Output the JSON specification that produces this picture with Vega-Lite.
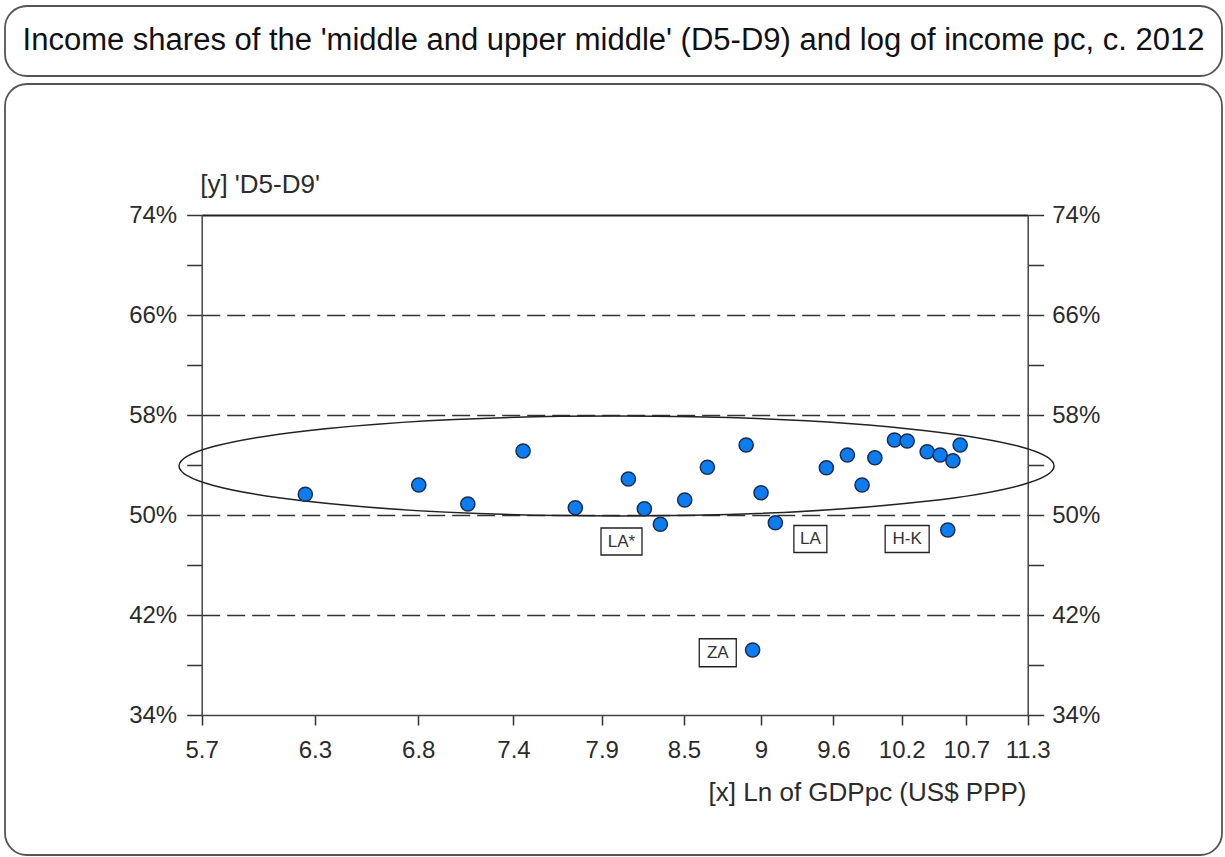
{
  "$schema": "https://vega.github.io/schema/vega-lite/v6.json",
  "padding": {"left": 4, "top": 5, "right": 0, "bottom": 0},
  "background": "white",
  "config": {
    "view": {"stroke": "#555", "strokeWidth": 1.8, "cornerRadius": 22},
    "font": "Liberation Sans"
  },
  "datasets": {
    "points": [
      {"x": 6.211, "y": 51.66}, {"x": 6.823, "y": 52.4}, {"x": 7.106, "y": 50.88},
      {"x": 7.439, "y": 55.12}, {"x": 7.768, "y": 50.58}, {"x": 8.117, "y": 52.88},
      {"x": 8.225, "y": 50.5}, {"x": 8.335, "y": 49.26}, {"x": 8.505, "y": 51.2},
      {"x": 8.666, "y": 53.82}, {"x": 8.949, "y": 55.6}, {"x": 9.06, "y": 51.78},
      {"x": 9.168, "y": 49.38}, {"x": 9.564, "y": 53.78}, {"x": 9.732, "y": 54.8},
      {"x": 9.851, "y": 52.4}, {"x": 9.956, "y": 54.58}, {"x": 10.119, "y": 56.0},
      {"x": 10.226, "y": 55.92}, {"x": 10.397, "y": 55.06}, {"x": 10.509, "y": 54.8},
      {"x": 10.621, "y": 54.34}, {"x": 10.685, "y": 55.6}, {"x": 10.576, "y": 48.8},
      {"x": 8.997, "y": 39.2}
    ],
    "labels": [
      {"label": "LA*", "x": 8.071, "y": 47.88},
      {"label": "LA", "x": 9.438, "y": 48.08},
      {"label": "H-K", "x": 10.226, "y": 48.08},
      {"label": "ZA", "x": 8.741, "y": 38.98}
    ],
    "ellipse": [{"x": 8.038, "y": 53.92}],
    "title": [{"t": "Income shares of the 'middle and upper middle' (D5-D9) and log of income pc, c. 2012"}]
  },
  "vconcat": [
    {
      "width": 1217,
      "height": 70,
      "view": {"stroke": "#555", "strokeWidth": 1.8, "cornerRadius": 22, "fill": "white"},
      "data": {"name": "title"},
      "mark": {"type": "text", "fontSize": 31, "color": "#111", "font": "Liberation Sans", "baseline": "middle"},
      "encoding": {"text": {"field": "t"}}
    },
    {
      "width": 1217,
      "height": 771,
      "view": {"stroke": "#555", "strokeWidth": 1.8, "cornerRadius": 22},
      "layer": [
        {
          "data": {"name": "ellipse"},
          "mark": {"type": "point", "shape": "M-437.5,0A437.5,50 0 1,1 437.5,0A437.5,50 0 1,1 -437.5,0Z", "size": 4, "filled": false, "stroke": "#222", "strokeWidth": 1.5, "opacity": 1},
          "encoding": {
            "x": {"field": "x", "type": "quantitative", "scale": {"type": "log", "domain": [5.7, 11.3], "range": [196.7, 1022.7], "nice": false, "zero": false}, "axis": null},
            "y": {"field": "y", "type": "quantitative", "scale": {"domain": [34, 74], "range": [631, 131], "nice": false, "zero": false}, "axis": null}
          }
        },
        {
          "data": {"name": "labels"},
          "mark": {"type": "point", "size": 4, "filled": true, "fill": "white", "stroke": "#222", "strokeWidth": 1.3, "opacity": 1},
          "encoding": {
            "x": {"field": "x", "type": "quantitative",
              "scale": {"type": "log", "domain": [5.7, 11.3], "range": [196.7, 1022.7], "nice": false, "zero": false},
              "axis": {"orient": "top", "offset": -131, "ticks": false, "labels": false, "grid": false, "title": null, "domain": true, "domainColor": "#222", "domainWidth": 2}},
            "y": {"field": "y", "type": "quantitative",
              "scale": {"domain": [34, 74], "range": [631, 131], "nice": false, "zero": false},
              "axis": {
                "orient": "right", "offset": -194.3, "title": null, "grid": false,
                "values": [34, 38, 42, 46, 50, 54, 58, 62, 66, 70, 74],
                "domainColor": "#444", "domainWidth": 1.5,
                "tickColor": "#333", "tickWidth": 1.5, "tickSize": 16,
                "labelExpr": "datum.value % 8 == 2 ? datum.value + '%' : ''",
                "labelFontSize": 24, "labelColor": "#2b2b2b", "labelPadding": 8, "labelFont": "Liberation Sans",
                "labelOverlap": false, "labelBound": false, "labelFlush": false,
                "encode": {"ticks": {"update": {
                  "x": [{"test": "datum.value % 8 == 2", "value": -9}, {"value": 0}],
                  "x2": [{"test": "datum.value % 8 == 2", "value": 16}, {"value": 8}]
                }}}
              }},
            "shape": {"field": "label", "type": "nominal", "legend": null,
              "scale": {"domain": ["LA*", "LA", "H-K", "ZA"],
                "range": ["M-20.5,-13.5H20.5V13.5H-20.5Z", "M-16.5,-13.5H16.5V13.5H-16.5Z", "M-22,-13.5H22V13.5H-22Z", "M-18.5,-14H18.5V14H-18.5Z"]}}
          }
        },
        {
          "data": {"name": "labels"},
          "mark": {"type": "text", "fontSize": 17, "color": "#333", "font": "Liberation Sans", "baseline": "middle", "align": "center"},
          "encoding": {
            "x": {"field": "x", "type": "quantitative", "axis": null},
            "y": {"field": "y", "type": "quantitative", "axis": null},
            "text": {"field": "label"}
          }
        },
        {
          "data": {"name": "points"},
          "mark": {"type": "circle", "size": 200, "fill": "#0b7df0", "stroke": "#1b2c4f", "strokeWidth": 1.5, "opacity": 1},
          "encoding": {
            "x": {"field": "x", "type": "quantitative",
              "scale": {"type": "log", "domain": [5.7, 11.3], "range": [196.7, 1022.7], "nice": false, "zero": false},
              "axis": {
                "orient": "bottom", "offset": -140, "grid": false,
                "values": [5.7, 6.26, 6.82, 7.38, 7.94, 8.5, 9.06, 9.62, 10.18, 10.74, 11.3],
                "labelExpr": "datum.value == 9.06 ? '9' : format(datum.value, '.1f')",
                "labelOverlap": false, "labelBound": false, "labelFlush": false,
                "domainColor": "#444", "domainWidth": 1.5,
                "tickColor": "#333", "tickWidth": 1.5, "tickSize": 10,
                "encode": {"ticks": {"update": {"y": {"value": -10}}}},
                "labelFontSize": 24, "labelColor": "#2b2b2b", "labelPadding": 13, "labelFont": "Liberation Sans",
                "title": "[x] Ln of GDPpc (US$ PPP)", "titleFontSize": 26, "titleFontWeight": "normal", "titleColor": "#2b2b2b", "titleFont": "Liberation Sans",
                "titleX": 1021, "titleY": 85, "titleAlign": "right", "titleBaseline": "alphabetic", "titleAnchor": null
              }},
            "y": {"field": "y", "type": "quantitative",
              "scale": {"domain": [34, 74], "range": [631, 131], "nice": false, "zero": false},
              "axis": {
                "orient": "left", "offset": -196.7,
                "values": [34, 38, 42, 46, 50, 54, 58, 62, 66, 70, 74],
                "grid": true, "gridColor": "#333", "gridWidth": 1.4, "gridDash": [18, 7],
                "gridOpacity": {"condition": {"test": "datum.value % 8 == 2 && datum.value > 34 && datum.value < 74", "value": 1}, "value": 0},
                "domainColor": "#444", "domainWidth": 1.5,
                "tickColor": "#333", "tickWidth": 1.5, "tickSize": 15,
                "labelExpr": "datum.value % 8 == 2 ? datum.value + '%' : ''",
                "labelFontSize": 24, "labelColor": "#2b2b2b", "labelPadding": 10, "labelFont": "Liberation Sans",
                "labelOverlap": false, "labelBound": false, "labelFlush": false,
                "encode": {"ticks": {"update": {
                  "x": [{"test": "datum.value % 8 == 2", "value": 10}, {"value": 0}],
                  "x2": [{"test": "datum.value % 8 == 2", "value": -15}, {"value": -7}]
                }}},
                "title": "[y] 'D5-D9'", "titleFontSize": 26, "titleFontWeight": "normal", "titleColor": "#2b2b2b", "titleFont": "Liberation Sans",
                "titleAngle": 0, "titleX": -2, "titleY": 108, "titleAlign": "left", "titleBaseline": "alphabetic", "titleAnchor": null
              }}
          }
        }
      ],
      "resolve": {"axis": {"x": "independent", "y": "independent"}}
    }
  ],
  "spacing": 6
}
